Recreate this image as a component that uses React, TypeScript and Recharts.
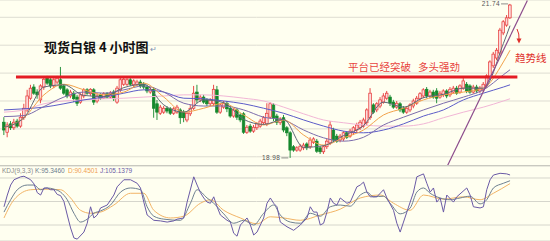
import React from 'react';
import {
  ComposedChart,
  LineChart,
  Bar,
  Line,
  XAxis,
  YAxis,
  CartesianGrid,
  ReferenceLine,
  ReferenceDot,
} from 'recharts';

// ---------- scales / layout ----------
const X_DOMAIN: [number, number] = [-1.2, 164];
const PRICE_DOMAIN: [number, number] = [18.835, 21.81];
const KDJ_DOMAIN: [number, number] = [-7.2, 120.4];
const priceTicks = [19, 19.5, 20, 20.5, 21, 21.5];
const kdjTicks = [0, 20, 40, 60, 80, 100];

// ---------- candles (4-hour bars, index 0..152) ----------
const open = [
  19.62, 19.44, 19.59, 19.52, 19.64, 19.55, 19.70, 19.84, 20.05, 20.25,
  20.16, 20.02, 20.25, 20.41, 20.38, 20.27, 20.34, 20.38, 20.27, 20.20,
  20.09, 20.14, 20.07, 19.98, 20.09, 20.20, 20.13, 20.20, 20.00, 20.11,
  20.05, 20.13, 20.07, 20.16, 19.98, 20.20, 20.30, 20.30, 20.38, 20.29,
  20.30, 20.34, 20.30, 20.25, 20.16, 20.21, 19.95, 19.78, 19.80, 19.87,
  19.86, 19.78, 19.80, 19.84, 19.80, 19.66, 19.77, 19.87, 20.16, 20.02,
  20.07, 20.02, 19.95, 19.95, 20.20, 19.80, 19.89, 19.96, 19.87, 19.73,
  19.84, 19.75, 19.77, 19.44, 19.55, 19.46, 19.52, 19.55, 19.61, 19.59,
  19.71, 19.93, 19.73, 19.61, 19.70, 19.52, 19.43, 19.18, 19.12, 19.12,
  19.16, 19.23, 19.18, 19.26, 19.28, 19.16, 19.09, 19.18, 19.25, 19.48,
  19.37, 19.30, 19.32, 19.43, 19.37, 19.43, 19.48, 19.52, 19.55, 19.61,
  19.70, 19.93, 19.84, 19.91, 19.98, 20.05, 20.07, 19.98, 19.89, 19.95,
  19.87, 19.80, 19.84, 19.91, 19.96, 20.04, 20.09, 20.21, 20.09, 20.16,
  20.18, 20.07, 20.11, 20.18, 20.11, 20.16, 20.23, 20.16, 20.23, 20.30,
  20.27, 20.16, 20.25, 20.18, 20.20, 20.27, 20.41, 20.63, 20.77, 20.86,
  21.22, 21.36, 21.49,
];
const high = [
  19.71, 19.62, 19.64, 19.68, 19.68, 19.78, 19.95, 20.20, 20.29, 20.30,
  20.21, 20.30, 20.43, 20.45, 20.41, 20.41, 20.45, 20.61, 20.30, 20.23,
  20.20, 20.18, 20.11, 20.14, 20.23, 20.23, 20.23, 20.23, 20.14, 20.14,
  20.16, 20.16, 20.18, 20.20, 20.27, 20.43, 20.43, 20.41, 20.41, 20.39,
  20.38, 20.38, 20.34, 20.29, 20.25, 20.25, 20.02, 19.93, 19.91, 19.91,
  19.89, 19.89, 19.93, 19.87, 19.84, 19.82, 19.93, 20.27, 20.29, 20.11,
  20.11, 20.05, 20.05, 20.29, 20.27, 19.96, 20.00, 20.00, 19.91, 19.87,
  19.87, 19.78, 19.80, 19.57, 19.59, 19.57, 19.62, 19.68, 19.73, 19.96,
  19.98, 19.96, 19.77, 19.71, 19.75, 19.55, 19.46, 19.21, 19.19, 19.23,
  19.25, 19.26, 19.35, 19.35, 19.32, 19.19, 19.21, 19.32, 19.64, 19.52,
  19.41, 19.41, 19.46, 19.46, 19.50, 19.55, 19.61, 19.66, 19.70, 19.87,
  20.23, 19.96, 19.98, 20.07, 20.14, 20.18, 20.11, 20.02, 20.00, 19.98,
  19.91, 19.91, 19.96, 20.04, 20.09, 20.16, 20.23, 20.25, 20.20, 20.20,
  20.23, 20.18, 20.21, 20.21, 20.25, 20.27, 20.27, 20.30, 20.41, 20.34,
  20.30, 20.29, 20.29, 20.27, 20.34, 20.48, 20.73, 20.88, 20.95, 21.31,
  21.45, 21.54, 21.74,
];
const low = [
  19.39, 19.35, 19.48, 19.48, 19.52, 19.52, 19.66, 19.80, 20.02, 20.11,
  20.04, 19.96, 20.20, 20.29, 20.23, 20.23, 20.30, 20.20, 20.11, 20.05,
  20.05, 19.98, 19.91, 19.95, 20.05, 20.11, 20.09, 19.93, 19.96, 20.02,
  20.04, 20.04, 20.04, 20.00, 19.95, 20.16, 20.27, 20.27, 20.27, 20.25,
  20.27, 20.23, 20.21, 20.14, 20.13, 19.70, 19.66, 19.75, 19.77, 19.78,
  19.75, 19.75, 19.77, 19.59, 19.62, 19.62, 19.73, 19.84, 19.96, 19.98,
  19.95, 19.91, 19.91, 19.91, 19.77, 19.77, 19.86, 19.80, 19.70, 19.70,
  19.66, 19.62, 19.41, 19.41, 19.43, 19.43, 19.48, 19.52, 19.57, 19.55,
  19.68, 19.64, 19.57, 19.57, 19.44, 19.37, 18.98, 19.09, 19.09, 19.09,
  19.12, 19.12, 19.14, 19.23, 19.07, 19.05, 19.05, 19.14, 19.21, 19.26,
  19.25, 19.26, 19.28, 19.32, 19.34, 19.39, 19.44, 19.48, 19.52, 19.57,
  19.66, 19.77, 19.80, 19.87, 19.95, 20.02, 19.91, 19.86, 19.86, 19.80,
  19.77, 19.77, 19.80, 19.87, 19.93, 20.00, 20.05, 20.05, 20.05, 20.04,
  19.96, 20.04, 20.07, 20.05, 20.07, 20.13, 20.11, 20.13, 20.20, 20.14,
  20.13, 20.13, 20.14, 20.14, 20.16, 20.23, 20.38, 20.59, 20.73, 20.82,
  21.18, 21.33, 21.47,
];
const close = [
  19.48, 19.57, 19.52, 19.62, 19.55, 19.71, 19.87, 20.09, 20.23, 20.14,
  20.11, 20.27, 20.39, 20.32, 20.27, 20.38, 20.41, 20.23, 20.14, 20.09,
  20.16, 20.04, 19.96, 20.11, 20.20, 20.14, 20.21, 19.98, 20.09, 20.05,
  20.13, 20.07, 20.14, 20.04, 20.23, 20.38, 20.39, 20.38, 20.30, 20.36,
  20.34, 20.27, 20.25, 20.18, 20.21, 19.87, 19.80, 19.89, 19.87, 19.82,
  19.78, 19.86, 19.89, 19.70, 19.70, 19.78, 19.87, 20.14, 20.02, 20.07,
  19.98, 19.95, 20.02, 20.21, 19.80, 19.93, 19.96, 19.86, 19.73, 19.84,
  19.71, 19.66, 19.44, 19.53, 19.46, 19.53, 19.59, 19.64, 19.70, 19.78,
  19.95, 19.70, 19.62, 19.68, 19.48, 19.43, 19.12, 19.12, 19.16, 19.19,
  19.21, 19.16, 19.30, 19.32, 19.10, 19.09, 19.18, 19.28, 19.57, 19.30,
  19.28, 19.37, 19.43, 19.35, 19.46, 19.52, 19.57, 19.62, 19.66, 19.84,
  20.14, 19.80, 19.95, 20.02, 20.09, 20.14, 19.96, 19.89, 19.96, 19.84,
  19.80, 19.87, 19.93, 20.00, 20.05, 20.13, 20.20, 20.09, 20.16, 20.07,
  20.05, 20.14, 20.18, 20.09, 20.21, 20.23, 20.14, 20.27, 20.36, 20.18,
  20.16, 20.25, 20.18, 20.23, 20.30, 20.45, 20.70, 20.84, 20.91, 21.27,
  21.42, 21.49, 21.72,
];

// ---------- moving averages, read at sampled bars ----------
const maIndex = [0, 6, 12, 18, 24, 30, 36, 42, 48, 54, 60, 66, 72, 78, 84, 90, 96, 102, 108, 114, 120, 126, 132, 138, 144, 150, 152];
const ma5 = [19.53, 19.70, 20.25, 20.29, 20.10, 20.08, 20.24, 20.30, 19.93, 19.80, 20.02, 19.97, 19.67, 19.58, 19.67, 19.17, 19.20, 19.38, 19.56, 19.98, 19.89, 20.06, 20.12, 20.23, 20.23, 21.03, 21.35];
const ma10 = [19.52, 19.70, 20.11, 20.30, 20.20, 20.11, 20.16, 20.32, 20.07, 19.80, 19.87, 19.96, 19.75, 19.57, 19.66, 19.39, 19.21, 19.34, 19.48, 19.75, 19.87, 20.02, 20.11, 20.16, 20.23, 20.70, 20.91];
const ma20 = [19.72, 19.74, 19.90, 20.07, 20.16, 20.14, 20.20, 20.27, 20.16, 19.96, 19.91, 19.91, 19.84, 19.71, 19.66, 19.48, 19.34, 19.28, 19.35, 19.57, 19.71, 19.84, 19.96, 20.07, 20.20, 20.47, 20.56];
const ma30 = [19.84, 19.86, 19.89, 19.95, 20.02, 20.07, 20.14, 20.20, 20.16, 20.05, 20.04, 20.00, 19.95, 19.87, 19.78, 19.66, 19.55, 19.46, 19.43, 19.48, 19.59, 19.73, 19.84, 20.02, 20.14, 20.25, 20.29];
const ma60 = [19.80, 19.84, 19.95, 20.00, 20.02, 20.04, 20.05, 20.07, 20.09, 20.11, 20.11, 20.09, 20.05, 20.00, 19.89, 19.77, 19.66, 19.61, 19.57, 19.55, 19.55, 19.59, 19.70, 19.80, 19.89, 20.00, 20.04];

// ---------- KDJ(9,3,3), read at sampled bars ----------
const kIndex = [0, 2, 4, 7, 9, 11, 13, 15, 17, 19, 21, 23, 25, 27, 29, 32, 35, 38, 41, 43, 45, 48, 53, 56, 58, 61, 63, 66, 69, 72, 75, 78, 81, 83, 86, 89, 92, 95, 98, 101, 104, 107, 109, 111, 114, 116, 119, 122, 124, 126, 128, 131, 134, 137, 140, 143, 145, 147, 150, 152];
const kValues = [42, 63, 80, 88, 88, 80, 83, 81, 76, 63, 40, 25, 30, 40, 44, 54, 76, 83, 80, 51, 35, 30, 28, 57, 80, 66, 57, 39, 23, 28, 20, 40, 54, 37, 25, 23, 40, 35, 51, 54, 52, 71, 76, 68, 69, 57, 39, 49, 76, 83, 74, 66, 63, 66, 69, 56, 63, 83, 91, 95.346];
const dIndex = [0, 3, 8, 12, 17, 20, 23, 26, 29, 33, 38, 42, 45, 50, 54, 59, 62, 66, 71, 76, 80, 84, 89, 95, 101, 107, 113, 117, 122, 126, 132, 138, 143, 147, 152];
const dValues = [32, 63, 80, 81, 80, 66, 45, 40, 42, 54, 74, 74, 45, 32, 35, 57, 63, 45, 32, 22, 34, 32, 28, 37, 47, 66, 71, 57, 45, 71, 64, 68, 63, 74, 90.4501];
const jIndex = [0, 1, 2, 3, 5, 6, 8, 9, 10, 11, 12, 13, 14, 15, 16, 17, 18, 19, 20, 21, 22, 24, 25, 26, 27, 28, 29, 31, 33, 34, 35, 36, 38, 40, 41, 42, 43, 45, 47, 49, 51, 52, 54, 55, 57, 58, 59, 60, 61, 62, 63, 64, 65, 67, 68, 69, 70, 71, 73, 74, 75, 76, 78, 79, 80, 81, 82, 83, 85, 87, 89, 91, 92, 93, 94, 95, 96, 97, 98, 99, 100, 101, 103, 104, 106, 107, 108, 109, 110, 112, 114, 115, 117, 118, 119, 120, 121, 123, 124, 126, 127, 128, 129, 130, 131, 132, 133, 135, 136, 139, 140, 141, 143, 144, 145, 146, 147, 149, 151, 152];
const jValues = [51, 71, 88, 97, 102, 103, 97, 90, 75, 71, 83, 83, 80, 80, 72, 70, 60, 37, 15, -2, -4, 8, 23, 51, 32, 37, 49, 54, 71, 85, 91, 97, 97, 91, 83, 59, 37, 28, 27, 25, 27, 30, 32, 59, 102, 88, 75, 66, 59, 57, 68, 51, 37, 28, 25, 6, 1, 20, 32, 20, 3, 8, 32, 57, 66, 57, 51, 25, 17, 11, 20, 32, 51, 42, 42, 20, 23, 42, 66, 57, 54, 66, 57, 59, 85, 88, 93, 76, 68, 68, 80, 66, 45, 23, 8, 25, 42, 76, 102, 107, 91, 76, 83, 59, 66, 42, 71, 59, 68, 83, 71, 51, 49, 51, 80, 97, 105, 108, 107, 105.1379];

// ---------- annotations (price levels) ----------
const resistance = { level: 20.43, from: 3.6, to: 154.2 };
const trendLine = { from: { x: 133.2, y: 18.84 }, to: { x: 157.2, y: 21.8 } };

// ---------- tables ----------
const candles: any[] = open.map((o, i) => ({
  i,
  open: o,
  high: high[i],
  low: low[i],
  close: close[i],
  range: [low[i], high[i]],
}));
maIndex.forEach((idx, n) => {
  Object.assign(candles[idx], { ma5: ma5[n], ma10: ma10[n], ma20: ma20[n], ma30: ma30[n], ma60: ma60[n] });
});

const kdjRows: any[] = open.map((_, i) => ({ i }));
kIndex.forEach((idx, n) => { kdjRows[idx].k = kValues[n]; });
dIndex.forEach((idx, n) => { kdjRows[idx].d = dValues[n]; });
jIndex.forEach((idx, n) => { kdjRows[idx].j = jValues[n]; });

const maxHigh = Math.max(...high);
const maxIdx = high.indexOf(maxHigh);
const minLow = Math.min(...low);
const minIdx = low.indexOf(minLow);

const UP = '#e63434';
const DOWN = '#14882c';
const BG = '#fffff0';

const Candle = (props: any) => {
  const { x, y, width, height, payload } = props;
  if (!payload || x == null) return null;
  const top = Math.min(y, y + height);
  const h = Math.abs(height);
  const span = payload.high - payload.low || 1;
  const py = (p: number) => top + ((payload.high - p) / span) * h;
  const cx = x + width / 2;
  const up = payload.close >= payload.open;
  const color = up ? UP : DOWN;
  const yo = py(payload.open);
  const yc = py(payload.close);
  const bTop = Math.min(yo, yc);
  const bH = Math.max(Math.abs(yc - yo), 0.9);
  return (
    <g>
      <line x1={cx} x2={cx} y1={top} y2={top + h} stroke={color} strokeWidth={0.9} />
      <rect x={cx - 1.3} y={bTop} width={2.6} height={bH} fill={up ? '#fcd9d9' : color} stroke={color} strokeWidth={0.7} />
    </g>
  );
};

const ExtremeLabel = (props: any) => {
  const { cx, cy, text } = props;
  if (cx == null) return null;
  return (
    <g>
      <line x1={cx - 9} x2={cx - 2} y1={cy} y2={cy} stroke="#707070" strokeWidth={0.8} />
      <text x={cx - 10} y={cy + 2.3} textAnchor="end" fontSize={6.5} fontFamily="'Liberation Sans', Arial, sans-serif" fill="#555" letterSpacing={0.4}>
        {text}
      </text>
    </g>
  );
};

const maLine = (key: string, color: string, width = 1) => (
  <Line
    key={key}
    dataKey={key}
    type="monotone"
    stroke={color}
    strokeWidth={width}
    dot={false}
    activeDot={false}
    connectNulls
    isAnimationActive={false}
  />
);

export default function App() {
  const cjk = "'Noto Sans CJK SC', sans-serif";
  const lastK = kValues[kValues.length - 1];
  const lastD = dValues[dValues.length - 1];
  const lastJ = jValues[jValues.length - 1];
  return (
    <div style={{ position: 'absolute', left: 0, top: 0, width: 550, height: 241, background: BG, overflow: 'hidden' }}>
      <div style={{ position: 'absolute', left: 0, top: 0 }}>
        <ComposedChart width={550} height={166} data={candles} margin={{ top: 0, right: 0, bottom: 0, left: 0 }}>
          <CartesianGrid vertical={false} stroke="#deddd2" strokeWidth={1} />
          <XAxis dataKey="i" type="number" domain={X_DOMAIN} allowDataOverflow hide />
          <YAxis type="number" domain={PRICE_DOMAIN} allowDataOverflow hide ticks={priceTicks} />
          {maLine('ma60', '#f2b6d6')}
          {maLine('ma30', '#5c5cc8')}
          {maLine('ma20', '#7c6cac')}
          <Bar dataKey="range" barSize={3} shape={<Candle />} isAnimationActive={false} />
          {maLine('ma10', '#f2a24a')}
          {maLine('ma5', '#5e6878')}
          <ReferenceLine
            segment={[{ x: resistance.from, y: resistance.level }, { x: resistance.to, y: resistance.level }]}
            stroke="#e41c24"
            strokeWidth={3}
            ifOverflow="visible"
          />
          <ReferenceLine
            segment={[trendLine.from, trendLine.to]}
            stroke="#8c4c8c"
            strokeWidth={1.2}
            ifOverflow="visible"
          />
          <ReferenceDot x={maxIdx} y={maxHigh} r={0} ifOverflow="visible" shape={(p: any) => <ExtremeLabel {...p} text={maxHigh.toFixed(2)} />} />
          <ReferenceDot x={minIdx} y={minLow} r={0} ifOverflow="visible" shape={(p: any) => <ExtremeLabel {...p} text={minLow.toFixed(2)} />} />
        </ComposedChart>
      </div>
      <div style={{ position: 'absolute', left: 0, top: 165, width: 550, height: 1, background: '#c9c9c0' }} />
      <div style={{ position: 'absolute', left: 0, top: 166 }}>
        <LineChart width={550} height={75} data={kdjRows} margin={{ top: 0, right: 0, bottom: 0, left: 0 }}>
          <CartesianGrid vertical={false} stroke="#d6d6cc" />
          <XAxis dataKey="i" type="number" domain={X_DOMAIN} allowDataOverflow hide />
          <YAxis type="number" domain={KDJ_DOMAIN} allowDataOverflow hide ticks={kdjTicks} />
          <Line dataKey="d" type="monotone" stroke="#f2b466" strokeWidth={1} dot={false} activeDot={false} connectNulls isAnimationActive={false} />
          <Line dataKey="k" type="monotone" stroke="#6e8090" strokeWidth={1} dot={false} activeDot={false} connectNulls isAnimationActive={false} />
          <Line dataKey="j" type="linear" stroke="#6a5aa6" strokeWidth={1} dot={false} activeDot={false} connectNulls isAnimationActive={false} />
        </LineChart>
      </div>
      <svg width={550} height={241} style={{ position: 'absolute', left: 0, top: 0, pointerEvents: 'none' }}>
        <text x={44} y={52} fontFamily={cjk} fontSize={13} fontWeight={700} fill="#111">
          现货白银 4 小时图
          <tspan fontSize={8} fontWeight={400} fill="#8090b4" dx={1}>↵</tspan>
        </text>
        <text y={70.5} fontFamily={cjk} fontSize={10.5} fill="#e8443e">
          <tspan x={348}>平台已经突破</tspan>
          <tspan x={418}>多头强劲</tspan>
        </text>
        <text x={515} y={62} fontFamily={cjk} fontSize={10.5} fill="#e0302c">趋势线</text>
        <path d="M517 29 Q519.5 34 519 39" stroke="#e0302c" strokeWidth={1} fill="none" />
        <path d="M516.5 38.5 L521.5 38.5 L519 43.5 Z" fill="#e0302c" />
        <text y={172.5} fontFamily="'Liberation Sans', Arial, sans-serif" fontSize={6.5}>
          <tspan x={2} fill="#8a8a8a">KDJ(9,3,3)</tspan>
          <tspan x={35} fill="#6e7c8c">K:{lastK.toFixed(4)}</tspan>
          <tspan x={68} fill="#f0a050">D:{lastD.toFixed(4)}</tspan>
          <tspan x={100} fill="#6a5aa6">J:{lastJ.toFixed(4)}</tspan>
        </text>
      </svg>
    </div>
  );
}
